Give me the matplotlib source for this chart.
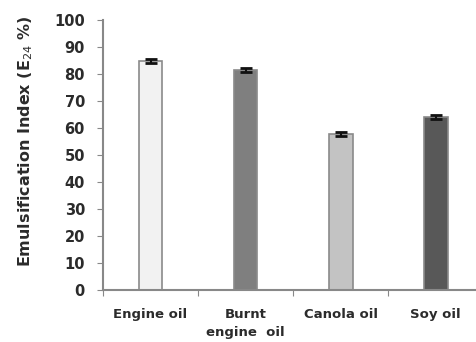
import numpy as np
import matplotlib.pyplot as plt

# Data
categories = ['Engine oil', 'Burnt\nengine  oil', 'Canola oil', 'Soy oil']
values = [85.0, 81.5, 57.8, 64.2]
errors = [0.7, 0.7, 0.6, 0.8]
colors = ['#f2f2f2', '#7f7f7f', '#c3c3c3', '#585858']

fig = plt.figure(figsize=(4.77, 3.42), dpi=100)
ax = fig.add_axes([0.216, 0.152, 0.797, 0.789])

x = np.arange(len(categories))
ax.bar(x, values, width=0.25, color=colors, edgecolor='#8a8a8a', linewidth=1.2,
       yerr=errors, error_kw=dict(ecolor='#111111', elinewidth=1.5, capsize=4, capthick=2))

ax.set_xlim(-0.5, 3.5)
ax.set_ylim(0, 100)
ax.set_yticks(np.arange(0, 101, 10))
ax.set_xticks(np.arange(-0.5, 3.6, 1.0))
ax.set_xticklabels([])
ax.set_xticks(x, minor=True)
ax.set_xticklabels(categories, minor=True)
ax.tick_params(axis='x', which='minor', length=0, pad=13)
ax.tick_params(axis='x', which='major', length=4, color='#888888', direction='out')
ax.tick_params(axis='y', length=4, color='#888888', direction='out', pad=9)

for lbl in ax.get_yticklabels():
    lbl.set_fontsize(10.5)
    lbl.set_fontweight('bold')
    lbl.set_color('#2b2b2b')
for lbl in ax.get_xticklabels(minor=True):
    lbl.set_fontsize(9.5)
    lbl.set_fontweight('bold')
    lbl.set_color('#2b2b2b')
    lbl.set_linespacing(1.5)

for side in ['top', 'right']:
    ax.spines[side].set_visible(False)
for side in ['left', 'bottom']:
    ax.spines[side].set_color('#888888')
    ax.spines[side].set_linewidth(1.5)

ax.set_ylabel('Emulsification Index (E$_{24}$ %)', fontsize=11.5, fontweight='bold',
              color='#2b2b2b', labelpad=6)
ax.yaxis.set_label_coords(-0.178, 0.55)

fig.savefig('out.png', dpi=100)
